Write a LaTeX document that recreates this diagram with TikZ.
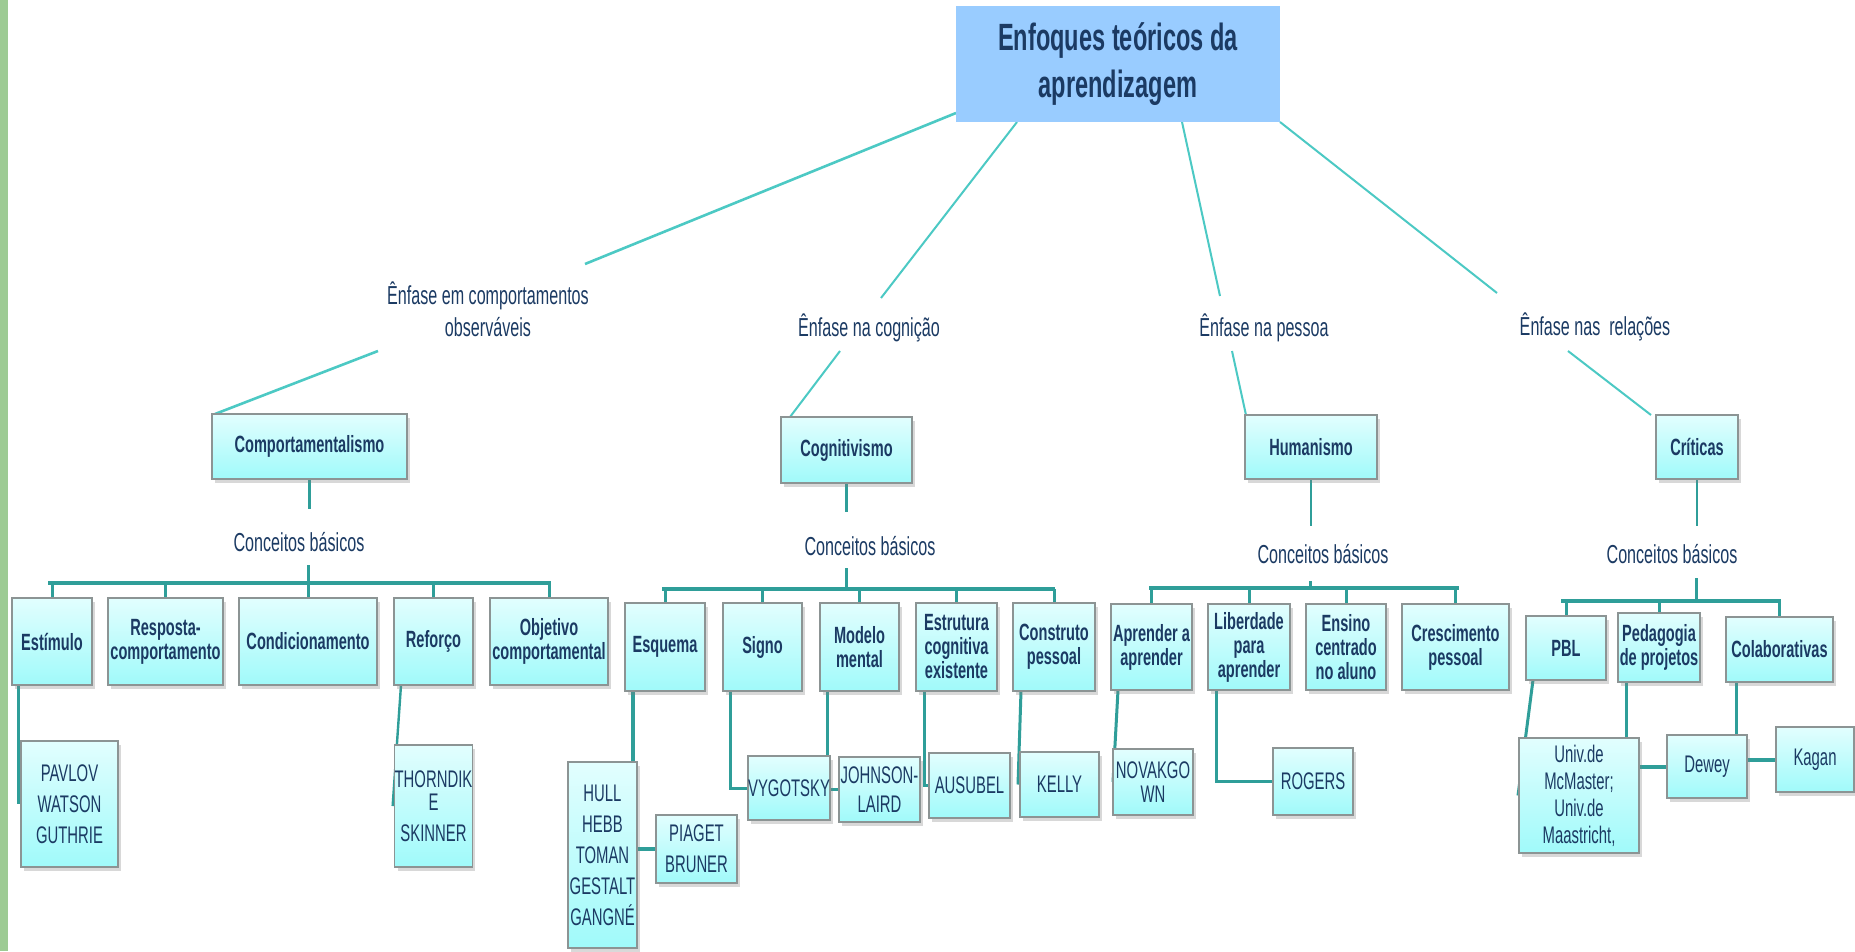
\documentclass[tikz,border=0pt]{standalone}
\usepackage{fontspec}
\setmainfont{Liberation Sans}[FakeStretch=0.62]
\usetikzlibrary{shadows,calc}
\pgfdeclarelayer{bg}
\pgfsetlayers{bg,main}
\definecolor{navy}{HTML}{1B3A63}
\definecolor{ctop}{HTML}{E2FEFE}
\definecolor{cbot}{HTML}{A0FAFA}
\definecolor{bgray}{HTML}{8C9494}
\definecolor{tblue}{HTML}{99CCFF}
\definecolor{turq}{HTML}{4CC9C4}
\definecolor{teal2}{HTML}{2F9E99}
\definecolor{gbar}{HTML}{9DCB94}
\tikzset{
  box/.style={draw=bgray, line width=1.3pt, top color=ctop, bottom color=cbot, inner sep=0pt, outer sep=0pt, align=center, text=navy, drop shadow={shadow xshift=3pt, shadow yshift=-4pt, opacity=0.3, fill=gray}},
  bbox/.style={box, font=\bfseries\fontsize{23.5}{24}\selectfont},
  nbox/.style={box, font=\fontsize{24}{31}\selectfont},
  lbl/.style={inner sep=0pt, align=center, text=navy, font=\fontsize{26}{32}\selectfont},
  thinln/.style={draw=turq, line width=2pt},
  stem/.style={draw=teal2, line width=2.6pt},
  busln/.style={draw=teal2, line width=4pt, line cap=rect},
  tick/.style={draw=teal2, line width=3pt},
  link/.style={draw=teal2, line width=3pt},
}
\begin{document}
\begin{tikzpicture}[x=1pt,y=-1pt]
\useasboundingbox (0,0) rectangle (1855,951);
\begin{pgfonlayer}{bg}
\fill[white] (0,0) rectangle (1855,951);
\fill[gbar] (0,0) rectangle (8,951);
\end{pgfonlayer}

% title
\node[fill=tblue, minimum width=324pt, minimum height=116pt, inner sep=0pt, outer sep=0pt, align=center, text=navy, font=\bfseries\fontsize{38}{47}\selectfont] (title) at (1118,64) {Enfoques teóricos da\\aprendizagem};

% labels
\node[lbl] (e1) at (488,309) {Ênfase em comportamentos\\observáveis};
\node[lbl] (e2) at (869,328) {Ênfase na cognição};
\node[lbl] (e3) at (1264,328) {Ênfase na pessoa};
\node[lbl] (e4) at (1595,327) {Ênfase nas~ relações};

% main boxes
\node[bbox, minimum width=195pt, minimum height=65pt] (comp) at (309.5,446.5) {Comportamentalismo};
\node[bbox, minimum width=131pt, minimum height=66pt] (cogn) at (846.5,450) {Cognitivismo};
\node[bbox, minimum width=132pt, minimum height=64pt] (hum) at (1311,447) {Humanismo};
\node[bbox, minimum width=82pt, minimum height=64pt] (crit) at (1697,447) {Críticas};

% conceitos
\node[lbl] (c1) at (299,542) {Conceitos básicos};
\node[lbl] (c2) at (870,546) {Conceitos básicos};
\node[lbl] (c3) at (1323,554) {Conceitos básicos};
\node[lbl] (c4) at (1672,554) {Conceitos básicos};

% row 1
\node[bbox, minimum width=80pt, minimum height=87pt] (estim) at (52,641.5) {Estímulo};
\node[bbox, minimum width=115pt, minimum height=87pt] (resp) at (165.5,641.5) {Resposta-\\comportamento};
\node[bbox, minimum width=138pt, minimum height=87pt] (cond) at (308,641.5) {Condicionamento};
\node[bbox, minimum width=79pt, minimum height=87pt] (refor) at (433.5,641.5) {Reforço};
\node[bbox, minimum width=118pt, minimum height=87pt] (objet) at (549,641.5) {Objetivo\\comportamental};
\node[nbox, minimum width=97pt, minimum height=126pt] (pavlov) at (69.5,804) {PAVLOV\\WATSON\\GUTHRIE};
\node[nbox, minimum width=77pt, minimum height=122pt] (thorn) at (433.5,806) {THORNDIK\\[-8pt]E\\SKINNER};

% row 2
\node[bbox, minimum width=80pt, minimum height=88pt] (esq) at (665,647) {Esquema};
\node[bbox, minimum width=79pt, minimum height=88pt] (signo) at (762.5,647) {Signo};
\node[bbox, minimum width=79pt, minimum height=88pt] (modelo) at (859.5,647) {Modelo\\mental};
\node[bbox, minimum width=81pt, minimum height=88pt] (estrut) at (956.5,647) {Estrutura\\cognitiva\\existente};
\node[bbox, minimum width=82pt, minimum height=88pt] (constr) at (1054,647) {Construto\\pessoal};
\node[nbox, minimum width=69pt, minimum height=186pt] (hull) at (602.5,855) {HULL\\HEBB\\TOMAN\\GESTALT\\GANGNÉ};
\node[nbox, minimum width=81pt, minimum height=68pt] (piaget) at (696.5,849) {PIAGET\\BRUNER};
\node[nbox, minimum width=82pt, minimum height=64pt] (vygot) at (789,788) {VYGOTSKY};
\node[nbox, minimum width=81pt, minimum height=65pt, font=\fontsize{24}{29}\selectfont] (johnson) at (879.5,789.5) {JOHNSON-\\LAIRD};
\node[nbox, minimum width=81pt, minimum height=65pt] (ausubel) at (969.5,785.5) {AUSUBEL};
\node[nbox, minimum width=79pt, minimum height=65pt] (kelly) at (1059.5,784.5) {KELLY};

% row 3
\node[bbox, minimum width=81pt, minimum height=86pt] (aprend) at (1151.5,647) {Aprender a\\aprender};
\node[bbox, minimum width=82pt, minimum height=86pt] (liberd) at (1249,647) {Liberdade\\para\\aprender};
\node[bbox, minimum width=80pt, minimum height=86pt] (ensino) at (1346,647) {Ensino\\centrado\\no aluno};
\node[bbox, minimum width=107pt, minimum height=86pt] (cresc) at (1455.5,647) {Crescimento\\pessoal};
\node[nbox, minimum width=80pt, minimum height=66pt, font=\fontsize{24}{24}\selectfont] (novak) at (1153,782) {NOVAKGO\\WN};
\node[nbox, minimum width=80pt, minimum height=67pt] (rogers) at (1313,781.5) {ROGERS};

% row 4
\node[bbox, minimum width=80pt, minimum height=64pt] (pbl) at (1566,648) {PBL};
\node[bbox, minimum width=82pt, minimum height=69pt] (pedag) at (1659,647.5) {Pedagogia\\de projetos};
\node[bbox, minimum width=107pt, minimum height=65pt] (colab) at (1779.5,649.5) {Colaborativas};
\node[nbox, minimum width=120pt, minimum height=115pt, font=\fontsize{24}{27}\selectfont] (univ) at (1579,795.5) {Univ.de\\McMaster;\\Univ.de\\Maastricht,};
\node[nbox, minimum width=80pt, minimum height=63pt] (dewey) at (1707,766.5) {Dewey};
\node[nbox, minimum width=78pt, minimum height=65pt] (kagan) at (1815,759.5) {Kagan};

% coordinates
\coordinate (a1) at (585,264);
\coordinate (b1) at (378,351);
\coordinate (a2) at (881,298);
\coordinate (b2) at (840,351);
\coordinate (a3) at (1220,296);
\coordinate (b3) at (1232,351);
\coordinate (a4) at (1497,293);
\coordinate (b4) at (1568,351);
\coordinate (s1) at (309.5,509);
\coordinate (t1) at (308,565);
\coordinate (k1) at (308,582.5);
\coordinate (s2) at (846.5,512);
\coordinate (t2) at (846,568);
\coordinate (k2) at (846,589);
\coordinate (s3) at (1311,526);
\coordinate (t3) at (1310,581);
\coordinate (k3) at (1310,587.5);
\coordinate (s4) at (1697,526);
\coordinate (t4) at (1696,578);
\coordinate (k4) at (1696,601);

\begin{pgfonlayer}{bg}
% thin connectors
\draw[thinln, line width=2.6pt] ($(title.south west)+(0,-9)$) -- (a1);
\draw[thinln, line width=2.6pt] (b1) -- ([xshift=3pt]comp.north west);
\draw[thinln] ($(title.south west)+(61,0)$) -- (a2);
\draw[thinln] (b2) -- ([xshift=9pt]cogn.north west);
\draw[thinln] ($(title.south west)+(226,0)$) -- (a3);
\draw[thinln] (b3) -- ([xshift=1pt]hum.north west);
\draw[thinln] (title.south east) -- (a4);
\draw[thinln] (b4) -- ([xshift=-5pt]crit.north west);
% stems
\draw[stem] (comp.south) -- (s1);
\draw[stem] (cogn.south) -- (s2);
\draw[stem] (hum.south) -- (s3);
\draw[stem] (crit.south) -- (s4);
\draw[tick] (t1) -- (k1);
\draw[tick] (t2) -- (k2);
\draw[tick] (t3) -- (k3);
\draw[tick] (t4) -- (k4);
% buses
\draw[busln] ([xshift=-2pt]estim.north |- k1) -- (objet.north |- k1);
\foreach \n in {estim,resp,cond,refor,objet} \draw[tick] (\n.north) -- (\n.north |- k1);
\draw[busln] ([xshift=-1pt]esq.north |- k2) -- ([xshift=-1pt]constr.north |- k2);
\foreach \n in {esq,signo,modelo,estrut,constr} \draw[tick] (\n.north) -- (\n.north |- k2);
\draw[busln] ([xshift=-1pt]aprend.north |- k3) -- ([xshift=1pt]cresc.north |- k3);
\foreach \n in {aprend,liberd,ensino,cresc} \draw[tick] (\n.north) -- (\n.north |- k3);
\draw[busln] ([xshift=-3pt]pbl.north |- k4) -- ([xshift=-1pt]colab.north |- k4);
\foreach \n in {pbl,pedag,colab} \draw[tick] (\n.north) -- (\n.north |- k4);
% links to names
\draw[link] ([xshift=6pt]estim.south west) -- ([xshift=-3pt]pavlov.west);
\draw[link, line width=2.4pt] ([xshift=7pt]refor.south west) -- ([xshift=-2pt]thorn.west);
\draw[link, line width=4pt] ([xshift=8pt]esq.south west) -- ([xshift=-4pt]hull.north east);
\draw[link, line width=4pt] (hull.east |- piaget.west) -- (piaget.west);
\draw[link] ([xshift=7pt]signo.south west) |- (vygot.west);
\draw[link] ([xshift=7pt]modelo.south west) |- (johnson.west);
\draw[link] ([xshift=8pt]estrut.south west) |- (ausubel.west);
\draw[link] ([xshift=8pt]constr.south west) -- ([xshift=-2pt]kelly.west);
\draw[link] ([xshift=7pt]aprend.south west) -- (novak.west);
\draw[link] ([xshift=8pt]liberd.south west) |- (rogers.west);
\draw[link] ([xshift=7pt]pbl.south west) -- ([xshift=-1pt]univ.west);
\draw[link] ([xshift=8pt]pedag.south west) -- ([xshift=8pt]pedag.south west |- univ.north);
\draw[link, line width=4pt] (dewey.west -| univ.east) -- (dewey.west);
\draw[link] ([xshift=10pt]colab.south west) -- ([xshift=10pt]colab.south west |- dewey.north);
\draw[link, line width=4pt] (kagan.west -| dewey.east) -- (kagan.west);
\end{pgfonlayer}
\end{tikzpicture}
\end{document}
